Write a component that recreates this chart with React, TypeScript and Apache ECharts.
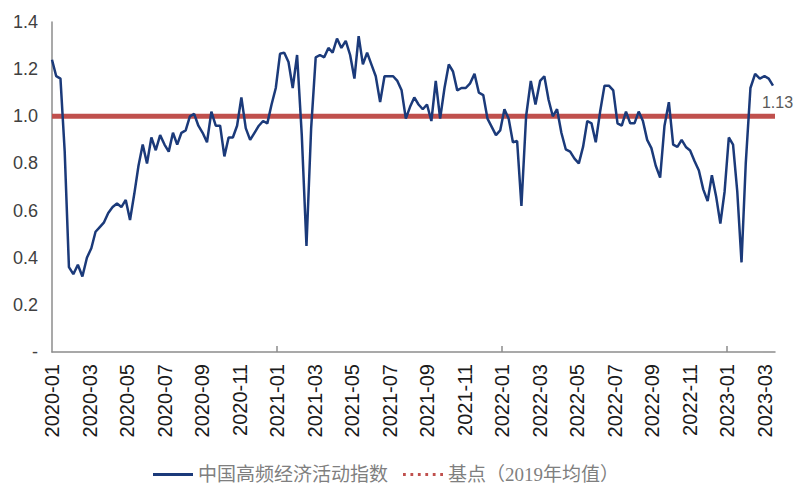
import { useEffect, useRef } from 'react';
import * as echarts from 'echarts';

// Weekly observations starting 2020-01-01
const startDate = '2020-01-01';
const stepDays = 7;
const activityIndex = [
  1.24, 1.17, 1.16, 0.85, 0.36, 0.33, 0.37, 0.32, 0.40, 0.44,
  0.51, 0.53, 0.55, 0.59, 0.615, 0.63, 0.615, 0.645, 0.56, 0.67,
  0.79, 0.88, 0.80, 0.91, 0.856, 0.92, 0.88, 0.85, 0.93, 0.88,
  0.93, 0.94, 1.00, 1.01, 0.96, 0.93, 0.89, 1.02, 0.96, 0.96,
  0.83, 0.91, 0.91, 0.96, 1.08, 0.95, 0.90, 0.93, 0.96, 0.98,
  0.97, 1.05, 1.12, 1.265, 1.27, 1.23, 1.12, 1.26, 0.92, 0.45,
  0.95, 1.25, 1.26, 1.25, 1.29, 1.27, 1.33, 1.29, 1.32, 1.26,
  1.16, 1.34, 1.22, 1.27, 1.22, 1.17, 1.06, 1.17, 1.17, 1.17,
  1.15, 1.11, 0.99, 1.04, 1.08, 1.05, 1.03, 1.05, 0.98, 1.15,
  0.99, 1.12, 1.22, 1.19, 1.11, 1.12, 1.12, 1.14, 1.18, 1.10,
  1.09, 0.99, 0.955, 0.92, 0.94, 1.03, 0.99, 0.89, 0.895, 0.62,
  1.00, 1.15, 1.05, 1.15, 1.17, 1.07, 1.00, 1.03, 0.93, 0.86,
  0.85, 0.82, 0.80, 0.87, 0.98, 0.97, 0.89, 1.02, 1.13, 1.13,
  1.11, 0.97, 0.96, 1.02, 0.97, 0.97, 1.02, 0.98, 0.90, 0.865,
  0.79, 0.74, 0.96, 1.06, 0.88, 0.87, 0.90, 0.87, 0.855, 0.81,
  0.77, 0.69, 0.64, 0.75, 0.66, 0.545, 0.68, 0.91, 0.88, 0.68,
  0.38, 0.80, 1.12, 1.18, 1.16, 1.17, 1.16, 1.13,
];
const baselineValues = [1, 1];
const xTickLabels = [
  '2020-01', '2020-03', '2020-05', '2020-07', '2020-09', '2020-11',
  '2021-01', '2021-03', '2021-05', '2021-07', '2021-09', '2021-11',
  '2022-01', '2022-03', '2022-05', '2022-07', '2022-09', '2022-11',
  '2023-01', '2023-03',
];
const yearTickMonths = [12, 24, 36];
const seriesNames = ['中国高频经济活动指数', '基点（2019年均值）'];
const endLabelText = '1.13';

const X_MAX = 38.56;

function monthOffset(t: number): number {
  const d = new Date(t);
  const y = d.getUTCFullYear();
  const m = d.getUTCMonth();
  const day = d.getUTCDate();
  const dim = new Date(Date.UTC(y, m + 1, 0)).getUTCDate();
  return (y - 2020) * 12 + m + (day - 1) / dim;
}

export default function App() {
  const ref = useRef<HTMLDivElement>(null);
  useEffect(() => {
    if (!ref.current) return;
    const chart = echarts.init(ref.current, null, { renderer: 'svg' });
    const t0 = Date.parse(startDate + 'T00:00:00Z');
    const lineData = activityIndex.map((v, i) => [monthOffset(t0 + i * stepDays * 86400000), v]);
    const baseData = [[0, baselineValues[0]], [X_MAX, baselineValues[1]]];
    const labelValues = xTickLabels.map((_, i) => i * 2);
    const axisGray = '#8c8c8c';
    const dotsPath = 'path://M0 0h3v3H0zM8 0h3v3H8zM16 0h3v3h-3zM24 0h3v3h-3zM32 0h3v3h-3zM40 0h3v3h-3z';
    chart.setOption({
      animation: false,
      backgroundColor: '#ffffff',
      grid: { left: 52, right: 25, top: 22, bottom: 148, containLabel: false },
      legend: {
        left: 148,
        top: 460,
        itemWidth: 40,
        itemHeight: 4,
        itemGap: 15,
        itemStyle: { borderWidth: 0 },
        textStyle: { fontSize: 19, color: '#7f7f7f', fontFamily: '"Liberation Serif", "Noto Sans CJK SC", serif' },
        data: [
          { name: seriesNames[0], icon: 'path://M0 0h40v3H0z' },
          { name: seriesNames[1], icon: dotsPath },
        ],
      },
      xAxis: {
        type: 'value',
        min: 0,
        max: X_MAX,
        splitLine: { show: false },
        axisLine: { show: true, lineStyle: { color: axisGray, width: 1.5 } },
        axisTick: {
          show: true,
          inside: true,
          length: 6,
          customValues: yearTickMonths,
          lineStyle: { color: axisGray, width: 1.5 },
        },
        axisLabel: {
          customValues: labelValues,
          rotate: 90,
          margin: 12,
          fontSize: 20,
          color: '#1a1a1a',
          fontFamily: '"Liberation Sans", Arial, sans-serif',
          formatter: (v: number) => {
            const idx = Math.round(v / 2);
            return Math.abs(v - idx * 2) < 1e-6 && xTickLabels[idx] ? xTickLabels[idx] : '';
          },
        },
      },
      yAxis: {
        type: 'value',
        min: 0,
        max: 1.4,
        interval: 0.2,
        splitLine: { show: false },
        axisTick: { show: false },
        axisLine: { show: true, lineStyle: { color: axisGray, width: 1.5 } },
        axisLabel: {
          fontSize: 18,
          color: '#404040',
          margin: 14,
          fontFamily: '"Liberation Sans", Arial, sans-serif',
          formatter: (v: number) => (Math.abs(v) < 1e-9 ? '-' : v.toFixed(1)),
        },
      },
      series: [
        {
          name: seriesNames[1],
          type: 'line',
          data: baseData,
          color: '#C0504D',
          itemStyle: { color: '#C0504D' },
          symbol: 'none',
          lineStyle: { color: '#C0504D', width: 5 },
          z: 2,
        },
        {
          name: seriesNames[0],
          type: 'line',
          data: lineData,
          color: '#1B3A7A',
          itemStyle: { color: '#1B3A7A' },
          symbol: 'none',
          lineStyle: { color: '#1B3A7A', width: 2.5 },
          z: 3,
          endLabel: {
            show: true,
            formatter: endLabelText,
            distance: 0,
            offset: [-11, 17],
            fontSize: 16,
            color: '#595959',
            fontFamily: '"Liberation Sans", Arial, sans-serif',
          },
        },
      ],
    });
    return () => chart.dispose();
  }, []);
  return (
    <div
      ref={ref}
      style={{ position: 'fixed', left: 0, top: 0, width: 800, height: 500, background: '#fff' }}
    />
  );
}
